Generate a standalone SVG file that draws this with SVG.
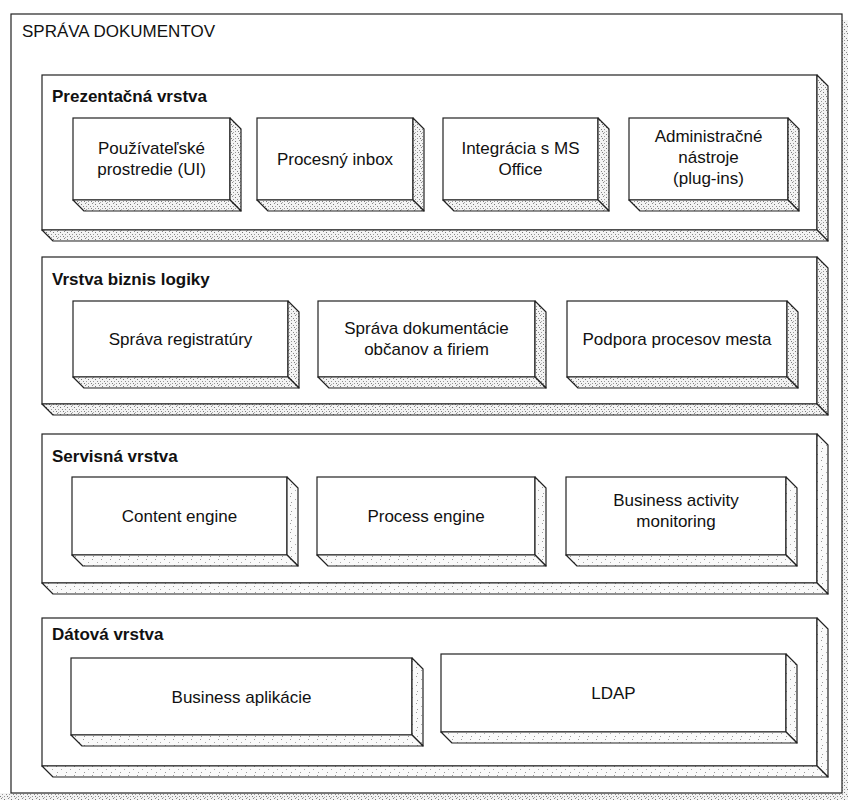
<svg xmlns="http://www.w3.org/2000/svg" width="848" height="800" viewBox="0 0 848 800">
<defs>
<pattern id="st" width="7" height="7" patternUnits="userSpaceOnUse">
<rect width="7" height="7" fill="#f3f3f3"/>
<rect x="1" y="0" width="1" height="1" fill="#8a8a8a"/>
<rect x="4" y="1" width="1" height="1" fill="#777"/>
<rect x="2" y="3" width="1" height="1" fill="#999"/>
<rect x="6" y="3" width="1" height="1" fill="#888"/>
<rect x="0" y="5" width="1" height="1" fill="#7a7a7a"/>
<rect x="4" y="5" width="1" height="1" fill="#999"/>
<rect x="2" y="6" width="1" height="1" fill="#aaa"/>
</pattern>
<pattern id="sp" width="9" height="9" patternUnits="userSpaceOnUse">
<rect width="9" height="9" fill="#fafafa"/>
<rect x="2" y="1" width="1" height="1" fill="#999"/>
<rect x="7" y="4" width="1" height="1" fill="#aaa"/>
<rect x="3" y="7" width="1" height="1" fill="#999"/>
</pattern>
<style>
.fr{fill:#fff;stroke:#222;stroke-width:1.2}
.f{fill:url(#st);stroke:#222;stroke-width:1.2;stroke-linejoin:round}
.fs{fill:url(#sp);stroke:#222;stroke-width:1.2;stroke-linejoin:round}
.t{font-family:"Liberation Sans",Arial,sans-serif;font-size:17px;fill:#111;text-anchor:middle}
.lt{font-family:"Liberation Sans",Arial,sans-serif;font-size:17px;font-weight:bold;fill:#111}
.ti{font-family:"Liberation Sans",Arial,sans-serif;font-size:17px;fill:#111}
</style>
</defs>
<rect x="0" y="0" width="848" height="800" fill="#fff"/>

<g id="frame">
<rect x="842" y="20" width="6" height="780" fill="url(#st)"/>
<rect x="0" y="793" width="848" height="7" fill="url(#st)"/>
<rect class="fr" x="11" y="14" width="831" height="779"/>
<text class="ti" x="22" y="37">SPRÁVA DOKUMENTOV</text>
</g>

<g id="layer-prezentacna">
<rect class="fr" x="42" y="75" width="775" height="155"/>
<polygon class="f" points="817,75 828,86 828,241 817,230"/>
<polygon class="f" points="42,230 817,230 828,241 53,241"/>
<text class="lt" x="52" y="102">Prezentačná vrstva</text>
</g>
<g id="node-ui">
<rect class="fr" x="73" y="118" width="157" height="82"/>
<polygon class="f" points="230,118 241,129 241,211 230,200"/>
<polygon class="f" points="73,200 230,200 241,211 84,211"/>
<text class="t" x="151.5" y="154">Používateľské</text>
<text class="t" x="151.5" y="175">prostredie (UI)</text>
</g>
<g id="node-inbox">
<rect class="fr" x="257" y="118" width="156" height="82"/>
<polygon class="f" points="413,118 424,129 424,211 413,200"/>
<polygon class="f" points="257,200 413,200 424,211 268,211"/>
<text class="t" x="335" y="165">Procesný inbox</text>
</g>
<g id="node-office">
<rect class="fr" x="443" y="118" width="155" height="82"/>
<polygon class="f" points="598,118 609,129 609,211 598,200"/>
<polygon class="f" points="443,200 598,200 609,211 454,211"/>
<text class="t" x="520.5" y="154">Integrácia s MS</text>
<text class="t" x="520.5" y="175">Office</text>
</g>
<g id="node-admin">
<rect class="fr" x="629" y="118" width="159" height="82"/>
<polygon class="f" points="788,118 799,129 799,211 788,200"/>
<polygon class="f" points="629,200 788,200 799,211 640,211"/>
<text class="t" x="708.5" y="142">Administračné</text>
<text class="t" x="708.5" y="163">nástroje</text>
<text class="t" x="708.5" y="184">(plug-ins)</text>
</g>

<g id="layer-biznis">
<rect class="fr" x="42" y="257" width="775" height="147"/>
<polygon class="f" points="817,257 828,268 828,415 817,404"/>
<polygon class="f" points="42,404 817,404 828,415 53,415"/>
<text class="lt" x="52" y="285">Vrstva biznis logiky</text>
</g>
<g id="node-registratura">
<rect class="fr" x="73" y="301" width="215" height="76"/>
<polygon class="f" points="288,301 299,312 299,388 288,377"/>
<polygon class="f" points="73,377 288,377 299,388 84,388"/>
<text class="t" x="180.5" y="345">Správa registratúry</text>
</g>
<g id="node-dokumentacia">
<rect class="fr" x="318" y="301" width="217" height="76"/>
<polygon class="f" points="535,301 546,312 546,388 535,377"/>
<polygon class="f" points="318,377 535,377 546,388 329,388"/>
<text class="t" x="426.5" y="334">Správa dokumentácie</text>
<text class="t" x="426.5" y="355">občanov a firiem</text>
</g>
<g id="node-podpora">
<rect class="fr" x="567" y="301" width="220" height="76"/>
<polygon class="f" points="787,301 798,312 798,388 787,377"/>
<polygon class="f" points="567,377 787,377 798,388 578,388"/>
<text class="t" x="677" y="345">Podpora procesov mesta</text>
</g>

<g id="layer-servisna">
<rect class="fr" x="42" y="434" width="775" height="149"/>
<polygon class="fs" points="817,434 828,445 828,594 817,583"/>
<polygon class="fs" points="42,583 817,583 828,594 53,594"/>
<text class="lt" x="52" y="462">Servisná vrstva</text>
</g>
<g id="node-content">
<rect class="fr" x="72" y="477" width="215" height="78"/>
<polygon class="fs" points="287,477 298,488 298,566 287,555"/>
<polygon class="fs" points="72,555 287,555 298,566 83,566"/>
<text class="t" x="179.5" y="522">Content engine</text>
</g>
<g id="node-process">
<rect class="fr" x="317" y="477" width="218" height="78"/>
<polygon class="fs" points="535,477 546,488 546,566 535,555"/>
<polygon class="fs" points="317,555 535,555 546,566 328,566"/>
<text class="t" x="426" y="522">Process engine</text>
</g>
<g id="node-bam">
<rect class="fr" x="566" y="477" width="220" height="78"/>
<polygon class="fs" points="786,477 797,488 797,566 786,555"/>
<polygon class="fs" points="566,555 786,555 797,566 577,566"/>
<text class="t" x="676" y="506">Business activity</text>
<text class="t" x="676" y="527">monitoring</text>
</g>

<g id="layer-datova">
<rect class="fr" x="42" y="618" width="775" height="148"/>
<polygon class="fs" points="817,618 828,629 828,777 817,766"/>
<polygon class="fs" points="42,766 817,766 828,777 53,777"/>
<text class="lt" x="52" y="640">Dátová vrstva</text>
</g>
<g id="node-business-aplikacie">
<rect class="fr" x="71" y="658" width="341" height="77"/>
<polygon class="fs" points="412,658 423,669 423,746 412,735"/>
<polygon class="fs" points="71,735 412,735 423,746 82,746"/>
<text class="t" x="241.5" y="703">Business aplikácie</text>
</g>
<g id="node-ldap">
<rect class="fr" x="441" y="654" width="345" height="78"/>
<polygon class="fs" points="786,654 797,665 797,743 786,732"/>
<polygon class="fs" points="441,732 786,732 797,743 452,743"/>
<text class="t" x="613.5" y="699">LDAP</text>
</g>

<g id="connectors"/>
</svg>
